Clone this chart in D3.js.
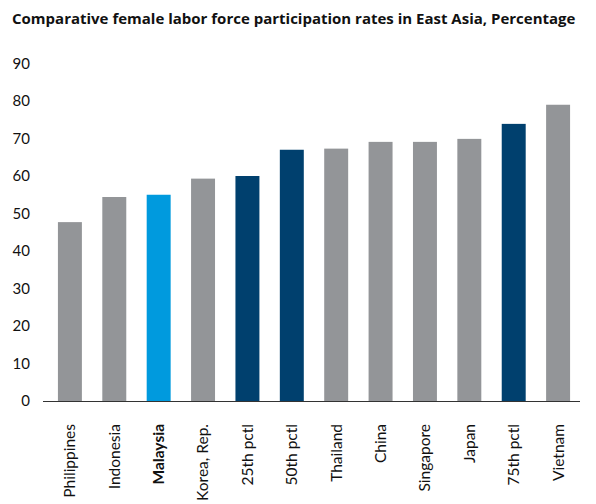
<!DOCTYPE html>
<html>
<head>
<meta charset="utf-8">
<script src="https://cdn.jsdelivr.net/npm/d3@7"></script>
<style>
  body { margin: 0; background: #fff; }
  svg { font-family: Lato, 'Noto Sans', sans-serif; }
</style>
</head>
<body>
<script>
let w = 596;
let h = 504;

let categories = ['Philippines', 'Indonesia', 'Malaysia', 'Korea, Rep.', '25th pctl', '50th pctl',
  'Thailand', 'China', 'Singapore', 'Japan', '75th pctl', 'Vietnam'];
let values = [47.7, 54.4, 55, 59.3, 60, 67, 67.3, 69.1, 69.1, 69.9, 73.9, 79];
let kinds = ['country', 'country', 'focus', 'country', 'pctl', 'pctl',
  'country', 'country', 'country', 'country', 'pctl', 'country'];
let yTicks = [0, 10, 20, 30, 40, 50, 60, 70, 80, 90];

let colors = { country: '#939598', focus: '#009ade', pctl: '#00406e' };

let dataset = categories.map((c, i) => ({ name: c, value: values[i], kind: kinds[i] }));

let xScale = d3.scaleBand()
  .domain(categories)
  .range([45.5, 582.5])
  .paddingInner(0.46)
  .paddingOuter(0.28);

let yScale = d3.scaleLinear()
  .domain([0, 90])
  .range([401, 63.5]);

let svg = d3.select('body')
  .append('svg')
  .attr('width', w)
  .attr('height', h);

svg.append('text')
  .attr('x', 12)
  .attr('y', 24)
  .attr('font-size', 15)
  .attr('font-family', "'Open Sans', sans-serif")
  .attr('font-weight', 'bold')
  .attr('fill', '#111')
  .text('Comparative female labor force participation rates in East Asia, Percentage');

svg.append('g')
  .selectAll('rect')
  .data(dataset)
  .enter()
  .append('rect')
  .attr('x', (d) => { return xScale(d.name); })
  .attr('y', (d) => { return yScale(d.value); })
  .attr('width', xScale.bandwidth())
  .attr('height', (d) => { return yScale(0) - yScale(d.value); })
  .attr('fill', (d) => { return colors[d.kind]; });

let yAxis = d3.axisLeft()
  .scale(yScale)
  .tickValues(yTicks)
  .tickSize(0)
  .tickPadding(0);

svg.append('g')
  .attr('class', 'y axis')
  .attr('transform', 'translate(30, 0)')
  .call(yAxis)
  .call((g) => g.select('.domain').remove())
  .selectAll('text')
  .attr('font-size', 15)
  .attr('font-family', 'Lato, sans-serif')
  .attr('fill', '#111');

svg.append('line')
  .attr('x1', 43)
  .attr('x2', 580)
  .attr('y1', yScale(0) + 0.5)
  .attr('y2', yScale(0) + 0.5)
  .attr('stroke', '#333')
  .attr('stroke-width', 1.2);

svg.append('g')
  .attr('class', 'x labels')
  .selectAll('text')
  .data(dataset)
  .enter()
  .append('text')
  .attr('transform', (d) => {
    return 'translate(' + (xScale(d.name) + xScale.bandwidth() / 2) + ', 424) rotate(-90)';
  })
  .attr('text-anchor', 'end')
  .attr('dy', '0.35em')
  .attr('font-size', 15.5)
  .attr('font-weight', (d) => { return d.kind === 'focus' ? 'bold' : 'normal'; })
  .attr('fill', '#111')
  .text((d) => { return d.name; });
</script>
</body>
</html>
